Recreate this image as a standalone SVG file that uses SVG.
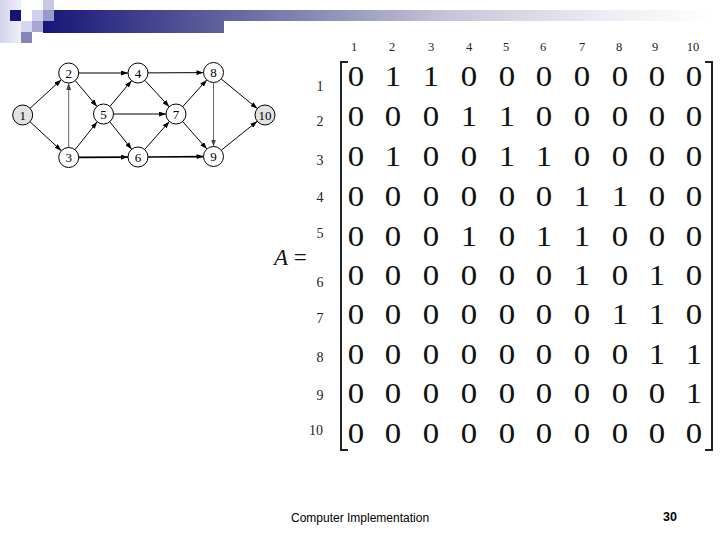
<svg xmlns="http://www.w3.org/2000/svg" width="720" height="540" viewBox="0 0 720 540">
<defs>
<linearGradient id="bar" gradientUnits="userSpaceOnUse" x1="43" y1="0" x2="712" y2="0">
<stop offset="0" stop-color="#161678"/>
<stop offset="0.3" stop-color="#6a6aa2"/>
<stop offset="0.6" stop-color="#c4c4d8"/>
<stop offset="0.85" stop-color="#eeeef4"/>
<stop offset="1" stop-color="#ffffff"/>
</linearGradient>
<linearGradient id="side" x1="0" y1="0" x2="1" y2="0">
<stop offset="0" stop-color="#d4d4ec"/>
<stop offset="1" stop-color="#f0f0f8"/>
</linearGradient>
<marker id="arr" viewBox="0 0 7 5" refX="7" refY="2.5" markerWidth="7" markerHeight="5" markerUnits="userSpaceOnUse" orient="auto">
<path d="M0,0 L7,2.5 L0,5 z" fill="#000"/>
</marker>
<marker id="arrg" viewBox="0 0 7 5" refX="7" refY="2.5" markerWidth="7" markerHeight="5" markerUnits="userSpaceOnUse" orient="auto">
<path d="M0,0 L7,2.5 L0,5 z" fill="#444"/>
</marker>
</defs>
<style>
.node circle{fill:#fff;stroke:#000;stroke-width:1}
.node.src circle{fill:#e2e2e2}
.node text{font-family:"Liberation Serif",serif;font-size:13px;text-anchor:middle;fill:#000}
.edge{stroke:#000;stroke-width:1;fill:none;marker-end:url(#arr)}
.edge.gray{stroke:#666;marker-end:url(#arrg)}
.edge.thick{stroke-width:1.6}
.hdr{font-family:"Liberation Serif",serif;font-size:12.5px;text-anchor:middle;fill:#222}
.rl{font-family:"Liberation Serif",serif;font-size:14px;text-anchor:middle;fill:#222}
.m text{font-family:"Liberation Serif",serif;font-size:28.5px;text-anchor:middle;fill:#111}
.br{stroke:#222;stroke-width:2;fill:none}
</style>
<rect width="720" height="540" fill="#fff"/>
<g id="decoration">
<rect x="0" y="0" width="21" height="43" fill="url(#side)"/>
<rect x="10" y="10" width="11" height="11" fill="#14147a"/>
<rect x="32" y="10" width="11" height="11" fill="#d0d0ea"/>
<rect x="43" y="0" width="11" height="10" fill="#c8c8e2"/>
<rect x="43" y="10" width="11" height="11" fill="#9a9ac8"/>
<rect x="21" y="21" width="11" height="11" fill="#d6d6ee"/>
<rect x="32" y="21" width="11" height="11" fill="#a6a6d0"/>
<rect x="21" y="32" width="11" height="11" fill="#8484b8"/>
<rect x="54" y="10" width="658" height="11" fill="url(#bar)"/>
<rect x="43" y="21" width="181" height="12" fill="url(#bar)"/>
</g>
<g id="connectors">
<line class="edge" x1="30.1" y1="108.3" x2="61.3" y2="79.7"/>
<line class="edge" x1="30.1" y1="121.8" x2="61.3" y2="150.7"/>
<line class="edge" x1="78.7" y1="73" x2="128" y2="73"/>
<line class="edge" x1="75.2" y1="80.6" x2="97" y2="106.4"/>
<line class="edge gray" x1="68.7" y1="147.5" x2="68.7" y2="83"/>
<line class="edge" x1="75" y1="149.7" x2="97.2" y2="121.8"/>
<line class="edge thick" x1="78.7" y1="157.4" x2="128" y2="157.1"/>
<line class="edge" x1="144.8" y1="80.3" x2="169.2" y2="106.7"/>
<line class="edge" x1="148" y1="72.9" x2="203.5" y2="72.6"/>
<line class="edge" x1="109.9" y1="106.4" x2="131.6" y2="80.7"/>
<line class="edge" x1="109.8" y1="121.8" x2="131.7" y2="149.2"/>
<line class="edge" x1="113.5" y1="114" x2="166" y2="114"/>
<line class="edge" x1="144.6" y1="149.5" x2="169.4" y2="121.5"/>
<line class="edge thick" x1="148" y1="157" x2="203.5" y2="156.6"/>
<line class="edge" x1="182.7" y1="106.6" x2="206.8" y2="79.9"/>
<line class="edge" x1="182.6" y1="121.5" x2="206.9" y2="149"/>
<line class="edge gray" x1="213.5" y1="82.5" x2="213.5" y2="146.5"/>
<line class="edge" x1="221.2" y1="78.9" x2="257.3" y2="108.6"/>
<line class="edge" x1="221.3" y1="150.2" x2="257.2" y2="121.3"/>
</g>
<g id="n1" class="node src"><circle cx="22.7" cy="115" r="10"/><text x="22.7" y="119.5">1</text></g>
<g id="n2" class="node"><circle cx="68.7" cy="73" r="10"/><text x="68.7" y="77.5">2</text></g>
<g id="n3" class="node"><circle cx="68.7" cy="157.5" r="10"/><text x="68.7" y="162">3</text></g>
<g id="n4" class="node"><circle cx="138" cy="73" r="10"/><text x="138" y="77.5">4</text></g>
<g id="n5" class="node"><circle cx="103.5" cy="114" r="10"/><text x="103.5" y="118.5">5</text></g>
<g id="n6" class="node"><circle cx="138" cy="157" r="10"/><text x="138" y="161.5">6</text></g>
<g id="n7" class="node"><circle cx="176" cy="114" r="10"/><text x="176" y="118.5">7</text></g>
<g id="n8" class="node"><circle cx="213.5" cy="72.5" r="10"/><text x="213.5" y="77">8</text></g>
<g id="n9" class="node"><circle cx="213.5" cy="156.5" r="10"/><text x="213.5" y="161">9</text></g>
<g id="n10" class="node src"><circle cx="265" cy="115" r="10"/><text x="265" y="119.5">10</text></g>
<g id="matrix">
<text x="274" y="265" font-family="Liberation Serif, serif" font-size="23" fill="#111"><tspan font-style="italic">A</tspan> =</text>
<g id="col-headers">
<text class="hdr" x="354" y="51">1</text>
<text class="hdr" x="392" y="51">2</text>
<text class="hdr" x="431" y="51">3</text>
<text class="hdr" x="469" y="51">4</text>
<text class="hdr" x="506" y="51">5</text>
<text class="hdr" x="543" y="51">6</text>
<text class="hdr" x="582" y="51">7</text>
<text class="hdr" x="619" y="51">8</text>
<text class="hdr" x="655" y="51">9</text>
<text class="hdr" x="693" y="51">10</text>
</g>
<g id="row-labels">
<text class="rl" x="320" y="91">1</text>
<text class="rl" x="320" y="126">2</text>
<text class="rl" x="320" y="165">3</text>
<text class="rl" x="320" y="202">4</text>
<text class="rl" x="320" y="238">5</text>
<text class="rl" x="320" y="287">6</text>
<text class="rl" x="320" y="323">7</text>
<text class="rl" x="320" y="362">8</text>
<text class="rl" x="320" y="400">9</text>
<text class="rl" x="316" y="435">10</text>
</g>
<path class="br" d="M348,62 H341 V450 H348"/>
<path class="br" d="M705,62 H712 V450 H705"/>
<g class="m" transform="scale(1.15 1)">
<text y="86.5"><tspan x="309.6">0</tspan><tspan x="341.7">1</tspan><tspan x="374.8">1</tspan><tspan x="407.8">0</tspan><tspan x="440.9">0</tspan><tspan x="473">0</tspan><tspan x="506.1">0</tspan><tspan x="539.1">0</tspan><tspan x="571.3">0</tspan><tspan x="603.5">0</tspan></text>
<text y="126.5"><tspan x="309.6">0</tspan><tspan x="341.7">0</tspan><tspan x="374.8">0</tspan><tspan x="407.8">1</tspan><tspan x="440.9">1</tspan><tspan x="473">0</tspan><tspan x="506.1">0</tspan><tspan x="539.1">0</tspan><tspan x="571.3">0</tspan><tspan x="603.5">0</tspan></text>
<text y="166"><tspan x="309.6">0</tspan><tspan x="341.7">1</tspan><tspan x="374.8">0</tspan><tspan x="407.8">0</tspan><tspan x="440.9">1</tspan><tspan x="473">1</tspan><tspan x="506.1">0</tspan><tspan x="539.1">0</tspan><tspan x="571.3">0</tspan><tspan x="603.5">0</tspan></text>
<text y="206"><tspan x="309.6">0</tspan><tspan x="341.7">0</tspan><tspan x="374.8">0</tspan><tspan x="407.8">0</tspan><tspan x="440.9">0</tspan><tspan x="473">0</tspan><tspan x="506.1">1</tspan><tspan x="539.1">1</tspan><tspan x="571.3">0</tspan><tspan x="603.5">0</tspan></text>
<text y="246"><tspan x="309.6">0</tspan><tspan x="341.7">0</tspan><tspan x="374.8">0</tspan><tspan x="407.8">1</tspan><tspan x="440.9">0</tspan><tspan x="473">1</tspan><tspan x="506.1">1</tspan><tspan x="539.1">0</tspan><tspan x="571.3">0</tspan><tspan x="603.5">0</tspan></text>
<text y="285.5"><tspan x="309.6">0</tspan><tspan x="341.7">0</tspan><tspan x="374.8">0</tspan><tspan x="407.8">0</tspan><tspan x="440.9">0</tspan><tspan x="473">0</tspan><tspan x="506.1">1</tspan><tspan x="539.1">0</tspan><tspan x="571.3">1</tspan><tspan x="603.5">0</tspan></text>
<text y="324.5"><tspan x="309.6">0</tspan><tspan x="341.7">0</tspan><tspan x="374.8">0</tspan><tspan x="407.8">0</tspan><tspan x="440.9">0</tspan><tspan x="473">0</tspan><tspan x="506.1">0</tspan><tspan x="539.1">1</tspan><tspan x="571.3">1</tspan><tspan x="603.5">0</tspan></text>
<text y="364"><tspan x="309.6">0</tspan><tspan x="341.7">0</tspan><tspan x="374.8">0</tspan><tspan x="407.8">0</tspan><tspan x="440.9">0</tspan><tspan x="473">0</tspan><tspan x="506.1">0</tspan><tspan x="539.1">0</tspan><tspan x="571.3">1</tspan><tspan x="603.5">1</tspan></text>
<text y="403.5"><tspan x="309.6">0</tspan><tspan x="341.7">0</tspan><tspan x="374.8">0</tspan><tspan x="407.8">0</tspan><tspan x="440.9">0</tspan><tspan x="473">0</tspan><tspan x="506.1">0</tspan><tspan x="539.1">0</tspan><tspan x="571.3">0</tspan><tspan x="603.5">1</tspan></text>
<text y="443.5"><tspan x="309.6">0</tspan><tspan x="341.7">0</tspan><tspan x="374.8">0</tspan><tspan x="407.8">0</tspan><tspan x="440.9">0</tspan><tspan x="473">0</tspan><tspan x="506.1">0</tspan><tspan x="539.1">0</tspan><tspan x="571.3">0</tspan><tspan x="603.5">0</tspan></text>
</g>
</g>
<g id="footer">
<text x="291" y="522" font-family="Liberation Sans, Arial, sans-serif" font-size="12" fill="#000">Computer Implementation</text>
<text x="670" y="521" font-family="Liberation Sans, Arial, sans-serif" font-size="12.5" font-weight="bold" text-anchor="middle" fill="#000">30</text>
</g>
</svg>
